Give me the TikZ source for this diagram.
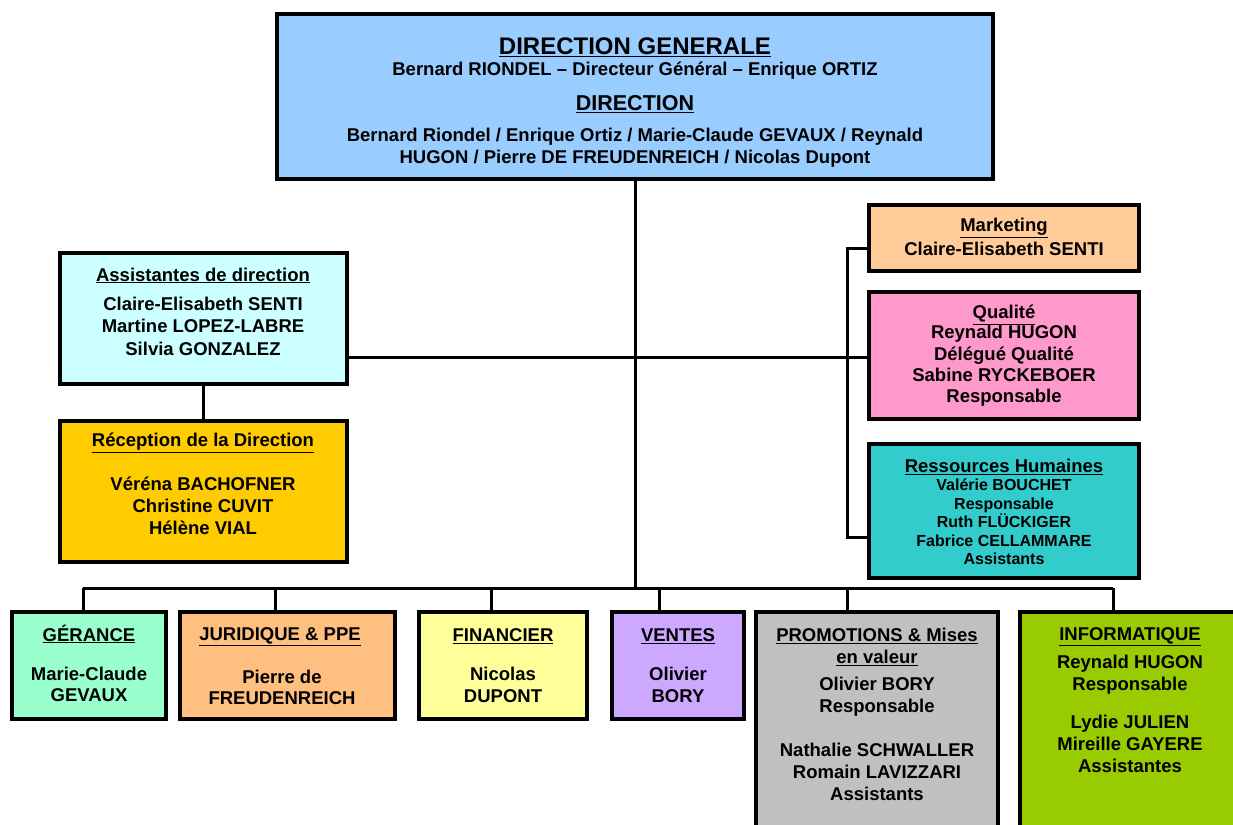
\documentclass[tikz,border=0pt]{standalone}
\usepackage{fontspec}
\setmainfont{Liberation Sans}
\usetikzlibrary{calc}
\definecolor{cdg}{HTML}{99CCFF}
\definecolor{cass}{HTML}{CCFFFF}
\definecolor{crec}{HTML}{FFCC00}
\definecolor{cmkt}{HTML}{FFCC99}
\definecolor{cqual}{HTML}{FF99CC}
\definecolor{crh}{HTML}{33CCCC}
\definecolor{cger}{HTML}{99FFCC}
\definecolor{cjur}{HTML}{FFBF80}
\definecolor{cfin}{HTML}{FFFF99}
\definecolor{cven}{HTML}{CCA8FF}
\definecolor{cpro}{HTML}{C0C0C0}
\definecolor{cinf}{HTML}{99CC00}
\newcommand{\fs}[2]{\fontsize{#1}{#2}\selectfont\bfseries}
\begin{document}
\begin{tikzpicture}[x=1pt,y=-1pt,
  box/.style={draw, line width=3.5pt, inner sep=0pt, outer sep=0pt, anchor=north west},
  lab/.style={align=center, inner sep=0pt},
  conn/.style={line width=3pt}]
\useasboundingbox (0,0) rectangle (1233,824);
\clip (0,0) rectangle (1233,824);
% boxes
\node[box, fill=cdg,  minimum width=716, minimum height=165] (dg)  at (277,14) {};
\node[box, fill=cass, minimum width=287, minimum height=131] (ass) at (60,253) {};
\node[box, fill=crec, minimum width=287, minimum height=141] (rec) at (60,421) {};
\node[box, fill=cmkt, minimum width=270, minimum height=66]  (mkt) at (869,205) {};
\node[box, fill=cqual,minimum width=270, minimum height=127] (qual) at (869,292) {};
\node[box, fill=crh,  minimum width=270, minimum height=134] (rh)  at (869,444) {};
\node[box, fill=cger, minimum width=154, minimum height=107] (ger) at (12,612) {};
\node[box, fill=cjur, minimum width=215, minimum height=107] (jur) at (180,612) {};
\node[box, fill=cfin, minimum width=168, minimum height=107] (fin) at (419,612) {};
\node[box, fill=cven, minimum width=132, minimum height=107] (ven) at (612,612) {};
\node[box, fill=cpro, minimum width=242, minimum height=228] (pro) at (756,612) {};
\node[box, fill=cinf, minimum width=225, minimum height=228] (inf) at (1020,612) {};
% connector coordinates
\coordinate (bx) at (847,0);
\coordinate (d1) at (83,588);
\coordinate (d2) at (275,588);
\coordinate (d3) at (491,588);
\coordinate (d4) at (659,588);
\coordinate (d5) at (847,588);
\coordinate (d6) at (1113,588);
\coordinate (mk) at ($(mkt.west)+(0,10)$);
\coordinate (rk) at ($(rh.west)+(0,26)$);
\coordinate (qk) at ($(qual.west)+(0,2)$);
% connectors
\draw[conn] (dg.south) -- (dg.south |- d1);
\draw[conn] (d1) -- (d6);
\draw[conn] (ass.east |- qk) -- (qk);
\draw[conn] (mk) -- (mk -| bx) -- (rk -| bx) -- (rk);
\draw[conn] (ass.south) -- (rec.north);
\draw[conn] (d1) -- (d1 |- ger.north);
\draw[conn] (d2) -- (d2 |- jur.north);
\draw[conn] (d3) -- (d3 |- fin.north);
\draw[conn] (d4) -- (d4 |- ven.north);
\draw[conn] (d5) -- (d5 |- pro.north);
\draw[conn] (d6) -- (d6 |- inf.north);
% texts: direction generale
\node[lab, font=\fs{24}{26}] (t1) at (635,47) {\underline{DIRECTION GENERALE}};
\node[lab, font=\fs{18.5}{22}] (t2) at (635,71) {Bernard RIONDEL – Directeur Général – Enrique ORTIZ};
\node[lab, font=\fs{21.5}{26}] (t3) at (635,104.5) {\underline{DIRECTION}};
\node[lab, font=\fs{18.5}{22}] (t4) at (635,148) {Bernard Riondel / Enrique Ortiz / Marie-Claude GEVAUX / Reynald\\HUGON / Pierre DE FREUDENREICH / Nicolas Dupont};
% assistantes
\node[lab, font=\fs{18.5}{22}] (a1) at (203,275.5) {\underline{Assistantes de direction}};
\node[lab, font=\fs{18.5}{22.5}] (a2) at (203,326) {Claire-Elisabeth SENTI\\Martine LOPEZ-LABRE\\Silvia GONZALEZ};
% reception
\node[lab, font=\fs{18.5}{22}] (r1) at (203,443) {\underline{Réception de la Direction}};
\node[lab, font=\fs{18.5}{22}] (r2) at (203,506) {Véréna BACHOFNER\\Christine CUVIT\\Hélène VIAL};
% marketing
\node[lab, font=\fs{18.5}{20}] (m1) at (1004,228) {\underline{Marketing}};
\node[lab, font=\fs{18.5}{20}] (m2) at (1004,248.5) {Claire-Elisabeth SENTI};
% qualite
\node[lab, font=\fs{18.5}{21.3}] (q1) at (1004,315) {\underline{Qualité}};
\node[lab, font=\fs{18.5}{21.3}] (q2) at (1004,366) {Reynald HUGON\\Délégué Qualité\\Sabine RYCKEBOER\\Responsable};
% RH
\node[lab, font=\fs{18.5}{20}] (h1) at (1004,467) {\underline{Ressources Humaines}};
\node[lab, font=\fs{16}{18.5}] (h2) at (1004,522) {Valérie BOUCHET\\Responsable\\Ruth FLÜCKIGER\\Fabrice CELLAMMARE\\Assistants};
% bottom row
\node[lab, font=\fs{18.5}{21}] (g1) at (89,634) {\underline{GÉRANCE}};
\node[lab, font=\fs{18.5}{21}] (g2) at (89,684.5) {Marie-Claude\\GEVAUX};
\node[lab, font=\fs{18.5}{21}] (j1) at (280,636.5) {\underline{JURIDIQUE \& PPE}};
\node[lab, font=\fs{18.5}{21}] (j2) at (282,687.5) {Pierre de\\FREUDENREICH};
\node[lab, font=\fs{18.5}{22}] (f1) at (503,636) {\underline{FINANCIER}};
\node[lab, font=\fs{18.5}{22}] (f2) at (503,685) {Nicolas\\DUPONT};
\node[lab, font=\fs{18.5}{22}] (v1) at (678,636) {\underline{VENTES}};
\node[lab, font=\fs{18.5}{22}] (v2) at (678,685) {Olivier\\BORY};
\node[lab, font=\fs{18.5}{22}] (p1) at (877,647) {\underline{PROMOTIONS \& Mises}\\\underline{en valeur}};
\node[lab, font=\fs{18.5}{22}] (p2) at (877,697) {Olivier BORY\\Responsable};
\node[lab, font=\fs{18.5}{22}] (p3) at (877,772) {Nathalie SCHWALLER\\Romain LAVIZZARI\\Assistants};
\node[lab, font=\fs{18.5}{22}] (i1) at (1130,636.5) {\underline{INFORMATIQUE}};
\node[lab, font=\fs{18.5}{21.5}] (i2) at (1130,674.5) {Reynald HUGON\\Responsable};
\node[lab, font=\fs{18.5}{22}] (i3) at (1130,744) {Lydie JULIEN\\Mireille GAYERE\\Assistantes};
\end{tikzpicture}
\end{document}
